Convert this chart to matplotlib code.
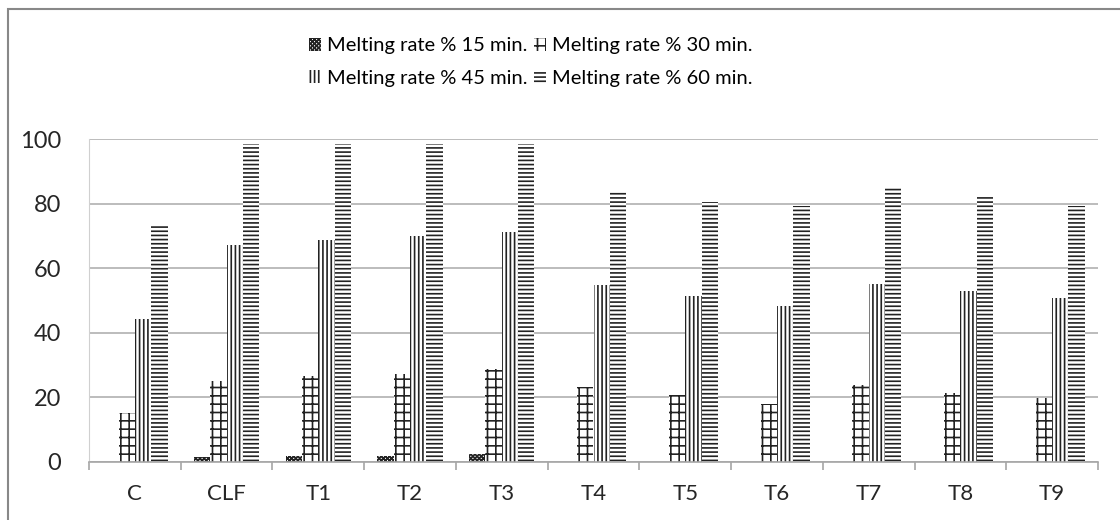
import numpy as np
import matplotlib.pyplot as plt
from matplotlib.patches import Rectangle

categories = ['C', 'CLF', 'T1', 'T2', 'T3', 'T4', 'T5', 'T6', 'T7', 'T8', 'T9']
rate_15 = [0, 1.5, 2.0, 2.0, 2.5, 0, 0, 0, 0, 0, 0]
rate_30 = [15.2, 25.2, 26.7, 27.2, 28.7, 23.3, 20.7, 17.9, 23.8, 21.3, 19.7]
rate_45 = [44.3, 67.1, 68.6, 70.0, 71.1, 54.8, 51.4, 48.4, 55.0, 53.0, 50.9]
rate_60 = [73.4, 98.5, 98.5, 98.5, 98.5, 83.7, 80.6, 79.3, 85.0, 82.1, 79.3]
series_labels = ['Melting rate % 15 min.', 'Melting rate % 30 min.',
                 'Melting rate % 45 min.', 'Melting rate % 60 min.']
y_ticks = [0, 20, 40, 60, 80, 100]

plt.rcParams['font.family'] = ['Lato', 'DejaVu Sans']
plt.rcParams['hatch.linewidth'] = 1.2

fig = plt.figure(figsize=(11.2, 5.2), dpi=100)
ax = fig.add_axes([89 / 1120, 1 - 462 / 520, (1098 - 89) / 1120, (462 - 139) / 520])

# outer frame (right and bottom fall off the picture)
fig.patches.append(Rectangle((8 / 1120, -0.1), 1.2, 1 - 9 / 520 + 0.1,
                             transform=fig.transFigure, fill=False,
                             edgecolor='#888888', linewidth=1.5))

x = np.arange(len(categories))
w = 0.178
hatches = ['xxxxxxxx', '++', '||||', '----']
all_series = [rate_15, rate_30, rate_45, rate_60]
bars = []
for i, vals in enumerate(all_series):
    b = ax.bar(x + (i - 1.5) * w, vals, w, color='white', edgecolor='#222222',
               linewidth=0, hatch=hatches[i], label=series_labels[i])
    bars.append(b)

ax.set_xlim(-0.5, len(categories) - 0.5)
ax.set_ylim(0, 100)
ax.set_yticks(y_ticks)
ax.yaxis.grid(True, color='#b0b0b0', linewidth=1.2)
ax.set_axisbelow(True)

ax.set_xticks(x)
ax.set_xticklabels(categories)
ax.set_xticks(np.arange(len(categories) + 1) - 0.5, minor=True)
ax.tick_params(axis='x', which='major', length=0, pad=16, labelsize=16, labelcolor='#262626')
ax.tick_params(axis='x', which='minor', length=6, color='#a6a6a6', width=1.2)
ax.tick_params(axis='y', length=0, pad=20, labelsize=17, labelcolor='#262626')

for side in ['top', 'right']:
    ax.spines[side].set_visible(False)
ax.spines['left'].set_color('#d0d0d0')
ax.spines['bottom'].set_color('#a6a6a6')
ax.spines['bottom'].set_linewidth(1.2)

# legend fills column-wise, so order handles to read row by row
order = [0, 2, 1, 3]
fig.legend(handles=[bars[i] for i in order], labels=[series_labels[i] for i in order],
           ncol=2, loc='center', bbox_to_anchor=(531 / 1120, 1 - 62 / 520), frameon=False,
           fontsize=14.5, handlelength=0.6, handleheight=0.6, handletextpad=0.3,
           columnspacing=0.3, labelspacing=0.75)

fig.savefig('out.png', dpi=100)
